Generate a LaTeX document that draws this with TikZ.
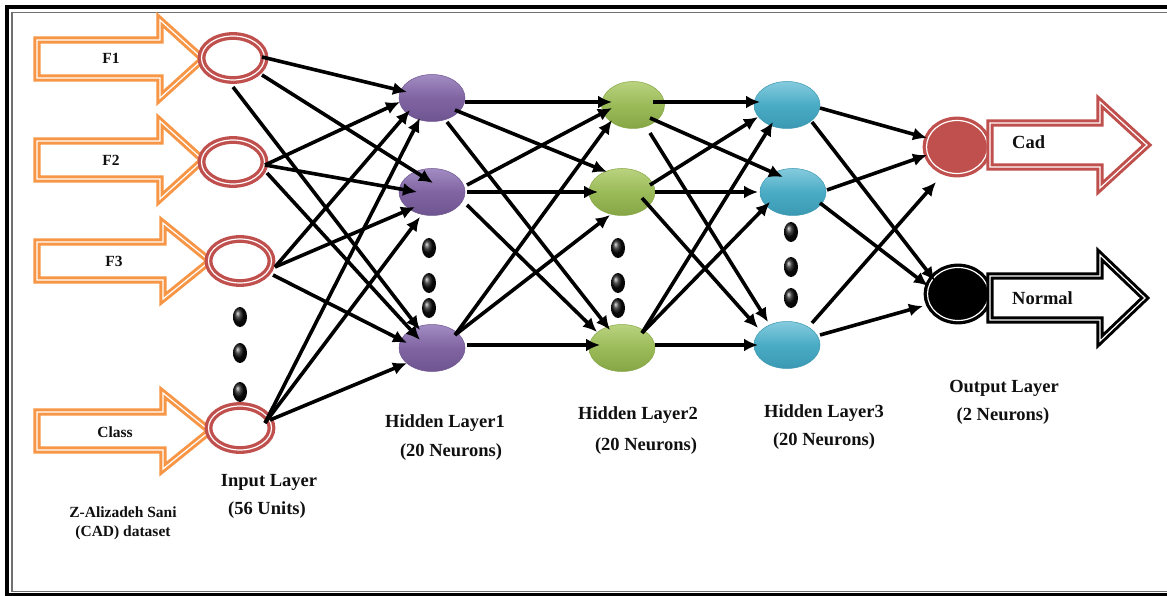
\documentclass[tikz,border=0pt]{standalone}
\usepackage{fontspec}
\setmainfont{Liberation Serif}
\usetikzlibrary{shapes.geometric,arrows.meta,calc}

\definecolor{ringred}{HTML}{C0504D}
\definecolor{feedorange}{HTML}{F79646}
\definecolor{purpleB}{HTML}{8064A2}
\definecolor{purpleT}{HTML}{A28CC2}
\definecolor{purpleD}{HTML}{6E5590}
\definecolor{greenB}{HTML}{9BBB59}
\definecolor{greenT}{HTML}{B9D27F}
\definecolor{greenD}{HTML}{86A646}
\definecolor{blueB}{HTML}{4BACC6}
\definecolor{blueT}{HTML}{85CBDD}
\definecolor{blueD}{HTML}{3A98B2}
\definecolor{inkdark}{HTML}{101010}
\definecolor{framegray}{HTML}{707070}

\tikzset{
  ring/.style={ellipse, inner sep=0pt, line width=3.3pt, double=white, double distance=1.2pt},
  innode/.style={ring, draw=ringred, fill=white, minimum width=63pt, minimum height=44pt},
  outcad/.style={ring, draw=ringred, fill=ringred, minimum width=61pt, minimum height=53pt},
  outnorm/.style={ring, draw=black, fill=black, minimum width=61pt, minimum height=53pt},
  hid/.style={ellipse, inner sep=0pt, minimum width=66pt, minimum height=47pt, line width=0.5pt},
  hone/.style={hid, draw=purpleD, top color=purpleT, bottom color=purpleD, middle color=purpleB},
  htwo/.style={hid, draw=greenD, top color=greenT, bottom color=greenD, middle color=greenB},
  hthree/.style={hid, draw=blueD, top color=blueT, bottom color=blueD, middle color=blueB},
  gap/.style={ellipse, inner sep=0pt, minimum width=14pt, minimum height=20pt, shading=ball, ball color=black!95},
  conn/.style={line width=3.6pt, draw=black, -{Latex[length=14pt,width=13pt]}},
  blockline/.style={fill=white, line width=3pt, double=white, double distance=1.2pt, line join=miter},
  feed/.style={blockline, draw=feedorange},
  outarrowred/.style={blockline, draw=ringred},
  outarrowblack/.style={blockline, draw=black},
  lbl/.style={font=\bfseries\fontsize{18.5}{22}\selectfont, text=inkdark, inner sep=0pt},
  small/.style={font=\bfseries\fontsize{15.5}{18}\selectfont, text=inkdark, inner sep=0pt}
}

% block arrow: style, left x, head start x, tip x, centre y, half shaft, half head
\newcommand\blockarrow[7]{%
  \draw[#1] ({#2},{#5-#6}) -- ({#3},{#5-#6}) -- ({#3},{#5-#7}) -- ({#4},{#5})
    -- ({#3},{#5+#7}) -- ({#3},{#5+#6}) -- ({#2},{#5+#6}) -- cycle;}
% connector between two neurons, each end given as an offset from the node centre
\newcommand\link[4]{\draw[conn] ($(#1)+(#2)$) -- ($(#3)+(#4)$);}

\begin{document}
\begin{tikzpicture}[x=1pt,y=-1pt]
\useasboundingbox (0,0) rectangle (1167,596);
\clip (0,0) rectangle (1167,596);
\fill[white] (0,0) rectangle (1167,596);

% frame
\draw[black, line width=4pt] (7,7.5) rectangle (1190,594.5);
\draw[framegray, line width=1.1pt] (12,12.5) rectangle (1185,591.5);

% feature inputs
\blockarrow{feed}{37}{160}{203}{59}{19}{39}
\blockarrow{feed}{37}{160}{203}{160}{19}{39}
\blockarrow{feed}{37}{163}{210}{261}{19}{38}
\blockarrow{feed}{37}{163}{210}{431}{19}{38}
\node[small] (lf1) at (111,58) {F1};
\node[small] (lf2) at (111,160) {F2};
\node[small] (lf3) at (114,261) {F3};
\node[small] (lcl) at (115,432) {Class};

% input layer
\node[innode] (f1) at (233,58) {};
\node[innode] (f2) at (233,162) {};
\node[innode] (f3) at (240,261) {};
\node[innode] (fc) at (240,428) {};
\node[gap] (d01) at (240,317) {};
\node[gap] (d02) at (240,353) {};
\node[gap] (d03) at (240,392) {};

% hidden layer 1
\node[hone] (h1a) at (432,98) {};
\node[hone] (h1b) at (432,192) {};
\node[hone] (h1c) at (432,348) {};
\node[gap] (d11) at (429,248) {};
\node[gap] (d12) at (429,283) {};
\node[gap] (d13) at (429,308) {};

% hidden layer 2
\node[htwo, minimum width=63pt] (h2a) at (633,105) {};
\node[htwo] (h2b) at (622,192) {};
\node[htwo] (h2c) at (622,348) {};
\node[gap] (d21) at (618,248) {};
\node[gap] (d22) at (618,283) {};
\node[gap] (d23) at (618,308) {};

% hidden layer 3
\node[hthree] (h3a) at (787,105) {};
\node[hthree] (h3b) at (793,192) {};
\node[hthree] (h3c) at (787,345) {};
\node[gap] (d31) at (791,232) {};
\node[gap] (d32) at (791,267) {};
\node[gap] (d33) at (791,298) {};

% output layer
\node[outcad] (oc) at (957,147) {};
\node[outnorm] (on) at (958,294) {};
\blockarrow{outarrowred}{990}{1100}{1147}{145}{22}{43}
\blockarrow{outarrowblack}{990}{1100}{1145}{298}{22}{43}
\node[lbl, anchor=west] (lcad) at (1012,142) {Cad};
\node[lbl, anchor=west] (lnorm) at (1012,298) {Normal};

% input -> hidden 1
\link{f1}{29,-1}{h1a}{-25,-6}
\link{f1}{29,17}{h1b}{1,-9}
\link{f1}{0,29}{h1c}{-12,-18}
\link{f2}{32,3}{h1a}{-32,4}
\link{f2}{32,3}{h1b}{-15,0}
\link{f2}{34,11}{h1c}{-12,-8}
\link{f3}{35,6}{h1a}{-22,12}
\link{f3}{35,6}{h1b}{-17,15}
\link{f3}{33,14}{h1c}{-25,-5}
\link{fc}{25,-5}{h1a}{-12,20}
\link{fc}{25,-5}{h1b}{-12,25}
\link{fc}{30,-8}{h1c}{-25,15}

% hidden 1 -> hidden 2
\link{h1a}{33,4}{h2a}{-21,-3}
\link{h1a}{23,12}{h2b}{-15,-20}
\link{h1a}{15,24}{h2c}{-12,-18}
\link{h1b}{35,-7}{h2a}{-21,3}
\link{h1b}{35,0}{h2b}{-24,0}
\link{h1b}{35,13}{h2c}{-25,-16}
\link{h1c}{23,-13}{h2a}{-21,15}
\link{h1c}{23,-13}{h2b}{-12,23}
\link{h1c}{35,-3}{h2c}{-22,-3}

% hidden 2 -> hidden 3
\link{h2a}{20,-3}{h3a}{-27,-3}
\link{h2a}{17,13}{h3b}{-10,-15}
\link{h2a}{17,28}{h3c}{-19,-23}
\link{h2b}{28,-7}{h3a}{-29,12}
\link{h2b}{33,0}{h3b}{-35,0}
\link{h2b}{20,6}{h3c}{-29,-17}
\link{h2c}{20,-15}{h3a}{-14,17}
\link{h2c}{20,-15}{h3b}{-23,10}
\link{h2c}{33,-3}{h3c}{-29,0}

% hidden 3 -> output
\link{h3a}{33,3}{oc}{-30,-9}
\link{h3a}{25,17}{on}{-23,-13}
\link{h3b}{34,-2}{oc}{-30,8}
\link{h3b}{27,11}{on}{-30,-8}
\link{h3c}{25,-22}{oc}{-21,35}
\link{h3c}{33,-10}{on}{-35,12}

% layer captions
\node[lbl] (t1a) at (269,482) {Input Layer};
\node[lbl] (t1b) at (267,510) {(56 Units)};
\node[lbl] (t2a) at (445,423) {Hidden Layer1};
\node[lbl] (t2b) at (451,452) {(20 Neurons)};
\node[lbl] (t3a) at (638,415) {Hidden Layer2};
\node[lbl] (t3b) at (646,446) {(20 Neurons)};
\node[lbl] (t4a) at (824,413) {Hidden Layer3};
\node[lbl] (t4b) at (824,441) {(20 Neurons)};
\node[lbl] (t5a) at (1004,388) {Output Layer};
\node[lbl] (t5b) at (1003,416) {(2 Neurons)};
\node[small] (t0a) at (123,512) {Z-Alizadeh Sani};
\node[small] (t0b) at (123,533) {(CAD) dataset};
\end{tikzpicture}
\end{document}
